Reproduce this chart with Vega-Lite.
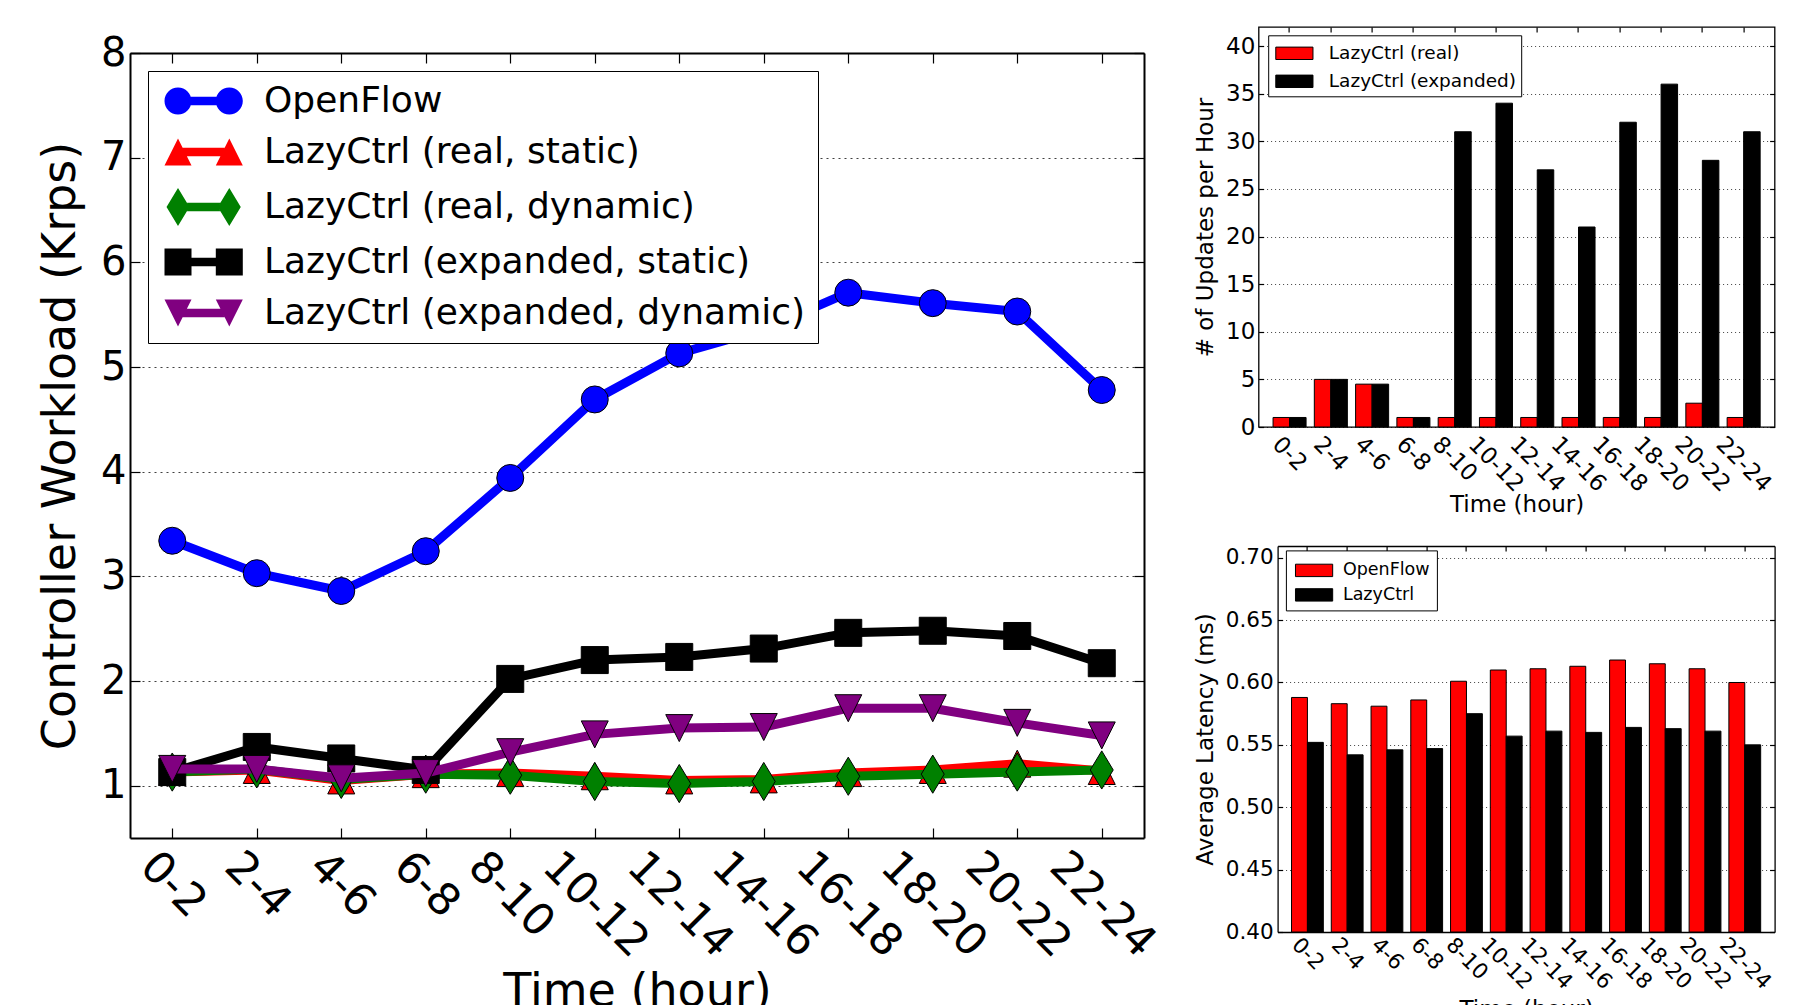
{
  "$schema": "https://vega.github.io/schema/vega-lite/v6.json",
  "background": "white",
  "padding": {"left": 37, "top": 25, "right": 0, "bottom": 0},
  "autosize": {"type": "pad"},
  "config": {
    "font": "DejaVu Sans",
    "axis": {"domain": false, "domainColor": "black", "labelColor": "black", "titleColor": "black", "tickColor": "black", "tickWidth": 1.2, "labelFont": "DejaVu Sans", "titleFont": "DejaVu Sans", "titleFontWeight": "normal", "gridColor": "black", "gridOpacity": 0.75, "labelFlush": false, "labelOverlap": false, "labelBound": false},
    "legend": {"labelFont": "DejaVu Sans", "labelColor": "black", "labelLimit": 2000, "symbolStrokeColor": "black", "symbolStrokeWidth": 1, "symbolOpacity": 1}
  },
  "resolve": {"scale": {"color": "independent", "shape": "independent", "xOffset": "independent"}},
  "spacing": 30.6,
  "hconcat": [
    {
      "width": 1014,
      "height": 811,
      "view": {"stroke": null},
      "data": {"values": [
        {"t": "0-2", "s": "OpenFlow", "v": 3.34}, {"t": "2-4", "s": "OpenFlow", "v": 3.03}, {"t": "4-6", "s": "OpenFlow", "v": 2.86}, {"t": "6-8", "s": "OpenFlow", "v": 3.24}, {"t": "8-10", "s": "OpenFlow", "v": 3.94}, {"t": "10-12", "s": "OpenFlow", "v": 4.69}, {"t": "12-14", "s": "OpenFlow", "v": 5.13}, {"t": "14-16", "s": "OpenFlow", "v": 5.36}, {"t": "16-18", "s": "OpenFlow", "v": 5.71}, {"t": "18-20", "s": "OpenFlow", "v": 5.61}, {"t": "20-22", "s": "OpenFlow", "v": 5.53}, {"t": "22-24", "s": "OpenFlow", "v": 4.78},
        {"t": "0-2", "s": "LazyCtrl (real, static)", "v": 1.13}, {"t": "2-4", "s": "LazyCtrl (real, static)", "v": 1.15}, {"t": "4-6", "s": "LazyCtrl (real, static)", "v": 1.05}, {"t": "6-8", "s": "LazyCtrl (real, static)", "v": 1.11}, {"t": "8-10", "s": "LazyCtrl (real, static)", "v": 1.12}, {"t": "10-12", "s": "LazyCtrl (real, static)", "v": 1.09}, {"t": "12-14", "s": "LazyCtrl (real, static)", "v": 1.05}, {"t": "14-16", "s": "LazyCtrl (real, static)", "v": 1.06}, {"t": "16-18", "s": "LazyCtrl (real, static)", "v": 1.12}, {"t": "18-20", "s": "LazyCtrl (real, static)", "v": 1.15}, {"t": "20-22", "s": "LazyCtrl (real, static)", "v": 1.21}, {"t": "22-24", "s": "LazyCtrl (real, static)", "v": 1.14},
        {"t": "0-2", "s": "LazyCtrl (real, dynamic)", "v": 1.13}, {"t": "2-4", "s": "LazyCtrl (real, dynamic)", "v": 1.16}, {"t": "4-6", "s": "LazyCtrl (real, dynamic)", "v": 1.06}, {"t": "6-8", "s": "LazyCtrl (real, dynamic)", "v": 1.11}, {"t": "8-10", "s": "LazyCtrl (real, dynamic)", "v": 1.10}, {"t": "10-12", "s": "LazyCtrl (real, dynamic)", "v": 1.04}, {"t": "12-14", "s": "LazyCtrl (real, dynamic)", "v": 1.02}, {"t": "14-16", "s": "LazyCtrl (real, dynamic)", "v": 1.04}, {"t": "16-18", "s": "LazyCtrl (real, dynamic)", "v": 1.09}, {"t": "18-20", "s": "LazyCtrl (real, dynamic)", "v": 1.11}, {"t": "20-22", "s": "LazyCtrl (real, dynamic)", "v": 1.13}, {"t": "22-24", "s": "LazyCtrl (real, dynamic)", "v": 1.15},
        {"t": "0-2", "s": "LazyCtrl (expanded, static)", "v": 1.13}, {"t": "2-4", "s": "LazyCtrl (expanded, static)", "v": 1.37}, {"t": "4-6", "s": "LazyCtrl (expanded, static)", "v": 1.26}, {"t": "6-8", "s": "LazyCtrl (expanded, static)", "v": 1.15}, {"t": "8-10", "s": "LazyCtrl (expanded, static)", "v": 2.02}, {"t": "10-12", "s": "LazyCtrl (expanded, static)", "v": 2.20}, {"t": "12-14", "s": "LazyCtrl (expanded, static)", "v": 2.23}, {"t": "14-16", "s": "LazyCtrl (expanded, static)", "v": 2.31}, {"t": "16-18", "s": "LazyCtrl (expanded, static)", "v": 2.46}, {"t": "18-20", "s": "LazyCtrl (expanded, static)", "v": 2.48}, {"t": "20-22", "s": "LazyCtrl (expanded, static)", "v": 2.43}, {"t": "22-24", "s": "LazyCtrl (expanded, static)", "v": 2.17},
        {"t": "0-2", "s": "LazyCtrl (expanded, dynamic)", "v": 1.16}, {"t": "2-4", "s": "LazyCtrl (expanded, dynamic)", "v": 1.16}, {"t": "4-6", "s": "LazyCtrl (expanded, dynamic)", "v": 1.07}, {"t": "6-8", "s": "LazyCtrl (expanded, dynamic)", "v": 1.12}, {"t": "8-10", "s": "LazyCtrl (expanded, dynamic)", "v": 1.32}, {"t": "10-12", "s": "LazyCtrl (expanded, dynamic)", "v": 1.49}, {"t": "12-14", "s": "LazyCtrl (expanded, dynamic)", "v": 1.55}, {"t": "14-16", "s": "LazyCtrl (expanded, dynamic)", "v": 1.56}, {"t": "16-18", "s": "LazyCtrl (expanded, dynamic)", "v": 1.74}, {"t": "18-20", "s": "LazyCtrl (expanded, dynamic)", "v": 1.74}, {"t": "20-22", "s": "LazyCtrl (expanded, dynamic)", "v": 1.60}, {"t": "22-24", "s": "LazyCtrl (expanded, dynamic)", "v": 1.48}
      ]},
      "encoding": {
        "x": {"field": "t", "type": "ordinal", "sort": ["0-2","2-4","4-6","6-8","8-10","10-12","12-14","14-16","16-18","18-20","20-22","22-24"], "scale": {"type": "point", "padding": 0.5}, "axis": null},
        "y": {"field": "v", "type": "quantitative", "scale": {"domain": [0.5, 8], "nice": false, "zero": false, "range": [811, 26]}, "axis": null}
      },
      "layer": [
        {
          "transform": [{"filter": "datum.s == 'OpenFlow'"}],
          "mark": {"type": "line", "color": "#0000ff", "strokeWidth": 9, "strokeJoin": "round"},
          "encoding": {
            "x": {"field": "t", "type": "ordinal", "sort": ["0-2","2-4","4-6","6-8","8-10","10-12","12-14","14-16","16-18","18-20","20-22","22-24"], "scale": {"type": "point", "padding": 0.5},
              "axis": {"orient": "bottom", "domain": true, "domainWidth": 2, "title": "Time (hour)", "titleFontSize": 46, "titlePadding": 4, "labelFontSize": 44, "labelAngle": 45, "labelAlign": "left", "labelBaseline": "middle", "labelOffset": {"expr": "4.3 - 9.9*length(datum.label)"}, "labelPadding": 31.4, "tickSize": -10, "grid": false}},
            "y": {"field": "v", "type": "quantitative", "scale": {"domain": [0.5, 8], "nice": false, "zero": false, "range": [811, 26]},
              "axis": {"orient": "left", "domain": true, "domainWidth": 2, "title": "Controller Workload (Krps)", "titleFontSize": 46, "titlePadding": 16, "labelFontSize": 40, "labelPadding": 14, "tickSize": -10, "values": [1,2,3,4,5,6,7,8], "format": "d", "grid": true, "gridDash": [2, 4], "gridWidth": 1.2}}
          }
        },
        {
          "transform": [{"filter": "datum.s == 'OpenFlow'"}],
          "mark": {"type": "point", "shape": "circle", "filled": true, "fill": "#0000ff", "stroke": "black", "strokeWidth": 1, "size": 729, "opacity": 1},
          "encoding": {
            "x": {"field": "t", "type": "ordinal", "sort": ["0-2","2-4","4-6","6-8","8-10","10-12","12-14","14-16","16-18","18-20","20-22","22-24"], "scale": {"type": "point", "padding": 0.5},
              "axis": {"orient": "top", "offset": -26, "domain": true, "domainWidth": 2, "title": null, "labels": false, "tickSize": -10, "grid": false}},
            "y": {"field": "v", "type": "quantitative", "scale": {"domain": [0.5, 8], "nice": false, "zero": false, "range": [811, 26]},
              "axis": {"orient": "right", "domain": true, "domainWidth": 2, "title": null, "labels": false, "tickSize": -10, "values": [1,2,3,4,5,6,7,8], "grid": false}}
          }
        },
        {
          "transform": [{"filter": "datum.s == 'LazyCtrl (real, static)'"}],
          "mark": {"type": "line", "color": "#ff0000", "strokeWidth": 9, "strokeJoin": "round"}
        },
        {
          "transform": [{"filter": "datum.s == 'LazyCtrl (real, static)'"}],
          "mark": {"type": "point", "shape": "M0,-1L1,1L-1,1Z", "filled": true, "fill": "#ff0000", "stroke": "black", "strokeWidth": 1, "size": 729, "opacity": 1}
        },
        {
          "transform": [{"filter": "datum.s == 'LazyCtrl (real, dynamic)'"}],
          "mark": {"type": "line", "color": "#008000", "strokeWidth": 9, "strokeJoin": "round"}
        },
        {
          "transform": [{"filter": "datum.s == 'LazyCtrl (real, dynamic)'"}],
          "mark": {"type": "point", "shape": "M0,-1.414L0.85,0L0,1.414L-0.85,0Z", "filled": true, "fill": "#008000", "stroke": "black", "strokeWidth": 1, "size": 729, "opacity": 1}
        },
        {
          "transform": [{"filter": "datum.s == 'LazyCtrl (expanded, static)'"}],
          "mark": {"type": "line", "color": "#000000", "strokeWidth": 9, "strokeJoin": "round"}
        },
        {
          "transform": [{"filter": "datum.s == 'LazyCtrl (expanded, static)'"}],
          "mark": {"type": "point", "shape": "square", "filled": true, "fill": "#000000", "stroke": "black", "strokeWidth": 1, "size": 729, "opacity": 1}
        },
        {
          "transform": [{"filter": "datum.s == 'LazyCtrl (expanded, dynamic)'"}],
          "mark": {"type": "line", "color": "#800080", "strokeWidth": 9, "strokeJoin": "round"}
        },
        {
          "transform": [{"filter": "datum.s == 'LazyCtrl (expanded, dynamic)'"}],
          "mark": {"type": "point", "shape": "M0,1L1,-1L-1,-1Z", "filled": true, "fill": "#800080", "stroke": "black", "strokeWidth": 1, "size": 729, "opacity": 1}
        },
        {
          "transform": [{"filter": "datum.v > 100"}],
          "mark": {"type": "point", "filled": true, "opacity": 1, "stroke": "black", "strokeWidth": 1},
          "encoding": {
            "color": {"field": "s", "type": "nominal",
              "scale": {"domain": ["OpenFlow", "LazyCtrl (real, static)", "LazyCtrl (real, dynamic)", "LazyCtrl (expanded, static)", "LazyCtrl (expanded, dynamic)"], "range": ["#0000ff", "#ff0000", "#008000", "#000000", "#800080"]},
              "legend": {"title": null, "orient": "none", "legendX": 18, "legendY": 44, "fillColor": "white", "strokeColor": "black", "padding": 12, "rowPadding": 15, "labelFontSize": 36, "labelOffset": 68, "symbolSize": 729}},
            "shape": {"field": "s", "type": "nominal",
              "scale": {"domain": ["OpenFlow", "LazyCtrl (real, static)", "LazyCtrl (real, dynamic)", "LazyCtrl (expanded, static)", "LazyCtrl (expanded, dynamic)"],
                "range": [
                  "M1,0A1,1,0,1,1,-1,0A1,1,0,1,1,1,0ZM4.8,0A1,1,0,1,1,2.8,0A1,1,0,1,1,4.8,0ZM0.95,-0.31H2.85V0.31H0.95Z",
                  "M0,-1L1,1L-1,1ZM3.8,-1L4.8,1L2.8,1ZM0.345,-0.31L3.455,-0.31L3.145,0.31L0.655,0.31Z",
                  "M0,-1.414L0.85,0L0,1.414L-0.85,0ZM3.8,-1.414L4.65,0L3.8,1.414L2.95,0ZM0.664,-0.31L3.136,-0.31L2.95,0L3.136,0.31L0.664,0.31L0.85,0Z",
                  "M-1,-1H1V1H-1ZM2.8,-1H4.8V1H2.8ZM1,-0.31H2.8V0.31H1Z",
                  "M0,1L1,-1L-1,-1ZM3.8,1L4.8,-1L2.8,-1ZM0.655,-0.31L3.145,-0.31L3.455,0.31L0.345,0.31Z"
                ]},
              "legend": {"title": null, "orient": "none", "legendX": 18, "legendY": 44, "fillColor": "white", "strokeColor": "black", "padding": 12, "rowPadding": 15, "labelFontSize": 36, "labelOffset": 68, "symbolSize": 729}}
          }
        }
      ]
    },
    {
      "spacing": 28,
      "resolve": {"scale": {"color": "independent", "xOffset": "independent"}},
      "vconcat": [
        {
          "width": 516,
          "height": 400,
          "view": {"stroke": "black", "strokeWidth": 1.3},
          "data": {"values": [
            {"t": "0-2", "s": "LazyCtrl (real)", "v": 1}, {"t": "2-4", "s": "LazyCtrl (real)", "v": 5}, {"t": "4-6", "s": "LazyCtrl (real)", "v": 4.5}, {"t": "6-8", "s": "LazyCtrl (real)", "v": 1}, {"t": "8-10", "s": "LazyCtrl (real)", "v": 1}, {"t": "10-12", "s": "LazyCtrl (real)", "v": 1}, {"t": "12-14", "s": "LazyCtrl (real)", "v": 1}, {"t": "14-16", "s": "LazyCtrl (real)", "v": 1}, {"t": "16-18", "s": "LazyCtrl (real)", "v": 1}, {"t": "18-20", "s": "LazyCtrl (real)", "v": 1}, {"t": "20-22", "s": "LazyCtrl (real)", "v": 2.5}, {"t": "22-24", "s": "LazyCtrl (real)", "v": 1},
            {"t": "0-2", "s": "LazyCtrl (expanded)", "v": 1}, {"t": "2-4", "s": "LazyCtrl (expanded)", "v": 5}, {"t": "4-6", "s": "LazyCtrl (expanded)", "v": 4.5}, {"t": "6-8", "s": "LazyCtrl (expanded)", "v": 1}, {"t": "8-10", "s": "LazyCtrl (expanded)", "v": 31}, {"t": "10-12", "s": "LazyCtrl (expanded)", "v": 34}, {"t": "12-14", "s": "LazyCtrl (expanded)", "v": 27}, {"t": "14-16", "s": "LazyCtrl (expanded)", "v": 21}, {"t": "16-18", "s": "LazyCtrl (expanded)", "v": 32}, {"t": "18-20", "s": "LazyCtrl (expanded)", "v": 36}, {"t": "20-22", "s": "LazyCtrl (expanded)", "v": 28}, {"t": "22-24", "s": "LazyCtrl (expanded)", "v": 31}
          ]},
          "layer": [
            {
              "mark": {"type": "bar", "stroke": "black", "strokeWidth": 1},
              "encoding": {
                "x": {"field": "t", "type": "nominal", "sort": ["0-2","2-4","4-6","6-8","8-10","10-12","12-14","14-16","16-18","18-20","20-22","22-24"], "scale": {"type": "band", "paddingInner": 0.2, "paddingOuter": 0.35},
                  "axis": {"orient": "bottom", "title": "Time (hour)", "titleFontSize": 23, "titlePadding": -3, "labelFontSize": 23, "labelAngle": 45, "labelAlign": "left", "labelBaseline": "middle", "labelOffset": {"expr": "2.24 - 5.18*length(datum.label)"}, "labelPadding": 18.3, "tickSize": -5, "grid": false}},
                "xOffset": {"field": "s", "type": "nominal", "sort": ["LazyCtrl (real)", "LazyCtrl (expanded)"], "scale": {"paddingInner": 0, "paddingOuter": 0}},
                "y": {"field": "v", "type": "quantitative", "scale": {"domain": [0, 42], "nice": false},
                  "axis": {"orient": "left", "title": "# of Updates per Hour", "titleFontSize": 23, "titlePadding": 8, "labelFontSize": 23, "labelPadding": 8.7, "tickSize": -5, "values": [0,5,10,15,20,25,30,35,40], "grid": true, "gridDash": [1, 3]}},
                "color": {"field": "s", "type": "nominal", "sort": ["LazyCtrl (real)", "LazyCtrl (expanded)"],
                  "scale": {"domain": ["LazyCtrl (real)", "LazyCtrl (expanded)"], "range": ["#ff0000", "#000000"]},
                  "legend": {"title": null, "orient": "none", "legendX": 9.6, "legendY": 8.3, "fillColor": "white", "strokeColor": "black", "padding": 5, "rowPadding": 5, "labelFontSize": 18.5, "labelOffset": 29.6, "symbolType": "M-0.84,-0.5H2.16V0.5H-0.84Z", "symbolSize": 615}}
              }
            },
            {
              "mark": {"type": "point", "opacity": 0},
              "encoding": {
                "x": {"field": "t", "type": "nominal", "sort": ["0-2","2-4","4-6","6-8","8-10","10-12","12-14","14-16","16-18","18-20","20-22","22-24"], "scale": {"type": "band", "paddingInner": 0.2, "paddingOuter": 0.35},
                  "axis": {"orient": "top", "title": null, "labels": false, "tickSize": -5, "grid": false}},
                "y": {"field": "v", "type": "quantitative", "scale": {"domain": [0, 42], "nice": false},
                  "axis": {"orient": "right", "title": null, "labels": false, "tickSize": -5, "values": [0,5,10,15,20,25,30,35,40], "grid": false}}
              }
            }
          ]
        },
        {
          "width": 516,
          "height": 386,
          "view": {"stroke": null},
          "data": {"values": [
            {"t": "0-2", "s": "OpenFlow", "v": 0.588}, {"t": "2-4", "s": "OpenFlow", "v": 0.583}, {"t": "4-6", "s": "OpenFlow", "v": 0.581}, {"t": "6-8", "s": "OpenFlow", "v": 0.586}, {"t": "8-10", "s": "OpenFlow", "v": 0.601}, {"t": "10-12", "s": "OpenFlow", "v": 0.610}, {"t": "12-14", "s": "OpenFlow", "v": 0.611}, {"t": "14-16", "s": "OpenFlow", "v": 0.613}, {"t": "16-18", "s": "OpenFlow", "v": 0.618}, {"t": "18-20", "s": "OpenFlow", "v": 0.615}, {"t": "20-22", "s": "OpenFlow", "v": 0.611}, {"t": "22-24", "s": "OpenFlow", "v": 0.600},
            {"t": "0-2", "s": "LazyCtrl", "v": 0.552}, {"t": "2-4", "s": "LazyCtrl", "v": 0.542}, {"t": "4-6", "s": "LazyCtrl", "v": 0.546}, {"t": "6-8", "s": "LazyCtrl", "v": 0.547}, {"t": "8-10", "s": "LazyCtrl", "v": 0.575}, {"t": "10-12", "s": "LazyCtrl", "v": 0.557}, {"t": "12-14", "s": "LazyCtrl", "v": 0.561}, {"t": "14-16", "s": "LazyCtrl", "v": 0.560}, {"t": "16-18", "s": "LazyCtrl", "v": 0.564}, {"t": "18-20", "s": "LazyCtrl", "v": 0.563}, {"t": "20-22", "s": "LazyCtrl", "v": 0.561}, {"t": "22-24", "s": "LazyCtrl", "v": 0.550}
          ]},
          "layer": [
            {
              "mark": {"type": "bar", "stroke": "black", "strokeWidth": 1},
              "encoding": {
                "x": {"field": "t", "type": "nominal", "sort": ["0-2","2-4","4-6","6-8","8-10","10-12","12-14","14-16","16-18","18-20","20-22","22-24"], "scale": {"type": "band", "paddingInner": 0.2, "paddingOuter": 0.35, "range": [19, 516]},
                  "axis": {"orient": "bottom", "domain": true, "domainWidth": 1.3, "title": "Time (hour)", "titleFontSize": 23, "titlePadding": 5, "labelFontSize": 21.5, "labelAngle": 45, "labelAlign": "left", "labelBaseline": "middle", "labelOffset": {"expr": "2.09 - 4.84*length(datum.label)"}, "labelPadding": 14.6, "tickSize": -5, "grid": false}},
                "xOffset": {"field": "s", "type": "nominal", "sort": ["OpenFlow", "LazyCtrl"], "scale": {"paddingInner": 0, "paddingOuter": 0}},
                "y": {"field": "v", "type": "quantitative", "scale": {"domain": [0.4, 0.7094], "nice": false, "zero": false},
                  "axis": {"orient": "left", "offset": -19, "domain": true, "domainWidth": 1.3, "title": "Average Latency (ms)", "titleFontSize": 23, "titlePadding": 8, "labelFontSize": 21.5, "labelPadding": 9.4, "tickSize": -5, "values": [0.4,0.45,0.5,0.55,0.6,0.65,0.7], "format": ".2f", "grid": true, "gridDash": [1, 3]}},
                "y2": {"datum": 0.4},
                "color": {"field": "s", "type": "nominal", "sort": ["OpenFlow", "LazyCtrl"],
                  "scale": {"domain": ["OpenFlow", "LazyCtrl"], "range": ["#ff0000", "#000000"]},
                  "legend": {"title": null, "orient": "none", "legendX": 27.3, "legendY": 4.4, "fillColor": "white", "strokeColor": "black", "padding": 7, "rowPadding": 2.5, "labelFontSize": 17.5, "labelOffset": 24, "symbolType": "M-0.84,-0.5H2.16V0.5H-0.84Z", "symbolSize": 615}}
              }
            },
            {
              "mark": {"type": "point", "opacity": 0},
              "encoding": {
                "x": {"field": "t", "type": "nominal", "sort": ["0-2","2-4","4-6","6-8","8-10","10-12","12-14","14-16","16-18","18-20","20-22","22-24"], "scale": {"type": "band", "paddingInner": 0.2, "paddingOuter": 0.35, "range": [19, 516]},
                  "axis": {"orient": "top", "domain": true, "domainWidth": 1.3, "title": null, "labels": false, "tickSize": -5, "grid": false}},
                "y": {"field": "v", "type": "quantitative", "scale": {"domain": [0.4, 0.7094], "nice": false, "zero": false},
                  "axis": {"orient": "right", "domain": true, "domainWidth": 1.3, "title": null, "labels": false, "tickSize": -5, "values": [0.4,0.45,0.5,0.55,0.6,0.65,0.7], "grid": false}}
              }
            }
          ]
        }
      ]
    }
  ]
}
